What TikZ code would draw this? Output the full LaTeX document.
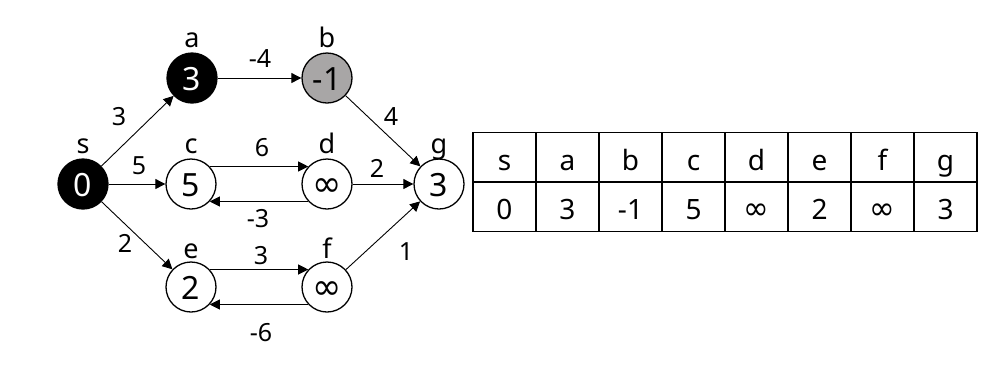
\documentclass[tikz,border=0pt]{standalone}
\usepackage{fontspec}
\usepackage{graphicx}
\setmainfont{Noto Sans}
\newfontfamily\dejavu{DejaVu Sans}
\usetikzlibrary{arrows.meta}
\newcommand{\infsym}{\scalebox{1.1}[1.15]{\dejavu ∞}}
\begin{document}
\begin{tikzpicture}[x=1pt,y=-1pt,
  vtx/.style={circle,draw,line width=1.3pt,minimum size=50pt,inner sep=0pt,
    font=\fontsize{32}{32}\selectfont,text height=24pt,text depth=0pt},
  blackvtx/.style={vtx,fill=black,text=white},
  grayvtx/.style={vtx,fill={rgb,255:red,168;green,166;blue,166}},
  whitevtx/.style={vtx,fill=white},
  vname/.style={anchor=base,inner sep=0pt,font=\fontsize{27}{27}\selectfont},
  wlabel/.style={inner sep=0pt,font=\fontsize{25}{25}\selectfont},
  arr/.style={line width=0.9pt,-{Triangle[length=10pt,width=10pt]}},
  cell/.style={draw,line width=1.5pt,minimum width=63pt,minimum height=49.5pt,
    inner sep=0pt,font=\fontsize{28}{28}\selectfont,text height=26pt,text depth=0pt}
]
\useasboundingbox (0,0) rectangle (996,368);

% vertices
\node[blackvtx] (s) at (83,184) {0};
\node[blackvtx] (a) at (192,78) {3};
\node[grayvtx]  (b) at (327,78) {-1};
\node[whitevtx] (c) at (191,184) {5};
\node[whitevtx] (d) at (327,184) {\infsym};
\node[whitevtx] (g) at (439,184) {3};
\node[whitevtx] (e) at (191,287) {2};
\node[whitevtx] (f) at (327,287) {\infsym};

% vertex names
\node[vname] (ls) at ([yshift=31pt]s.center) {s};
\node[vname] (la) at ([yshift=31pt]a.center) {a};
\node[vname] (lb) at ([yshift=31pt]b.center) {b};
\node[vname] (lc) at ([yshift=31pt]c.center) {c};
\node[vname] (ld) at ([yshift=31pt]d.center) {d};
\node[vname] (lg) at ([yshift=31pt]g.center) {g};
\node[vname] (le) at ([yshift=29pt]e.center) {e};
\node[vname] (lf) at ([yshift=29pt]f.center) {f};

% edges
\draw[arr] (s) -- (a);
\draw[arr] (s) -- (c);
\draw[arr] (s) -- (e);
\draw[arr] (a) -- (b);
\draw[arr] (b) -- (g);
\draw[arr] (c.43) -- (d.137);
\draw[arr] (d.223) -- (c.317);
\draw[arr] (d) -- (g);
\draw[arr] (e.43) -- (f.137);
\draw[arr] (f.223) -- (e.317);
\draw[arr] (f) -- (g);

% edge weights
\node[wlabel] (w1) at (119,117) {3};
\node[wlabel] (w2) at (139,166) {5};
\node[wlabel] (w3) at (125,243) {2};
\node[wlabel] (w4) at (260,59) {-4};
\node[wlabel] (w5) at (391,117) {4};
\node[wlabel] (w6) at (262,148) {6};
\node[wlabel] (w7) at (377,168) {2};
\node[wlabel] (w8) at (258,219) {-3};
\node[wlabel] (w9) at (261,256) {3};
\node[wlabel] (w10) at (406,252) {1};
\node[wlabel] (w11) at (261,333) {-6};

% table
\foreach \t [count=\i] in {s,a,b,c,d,e,f,g}
  \node[cell] (h\i) at (441.5+63*\i,157) {\t};
\foreach \t [count=\i] in {0,3,-1,5,\infsym,2,\infsym,3}
  \node[cell] (v\i) at (441.5+63*\i,206.5) {\t};
\end{tikzpicture}
\end{document}
